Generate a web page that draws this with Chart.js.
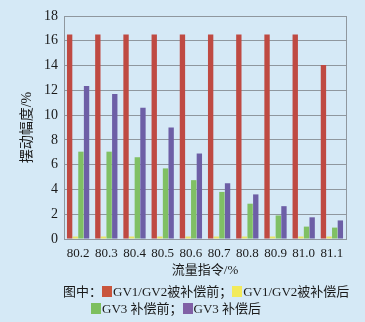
<!DOCTYPE html>
<html>
<head>
<meta charset="utf-8">
<script src="https://cdn.jsdelivr.net/npm/chart.js@4"></script>
<style>
    html, body { margin: 0; padding: 0; background: #d5e9f6; }
    #wrap { position: relative; width: 365px; height: 322px; overflow: hidden; }
    #legend {
        position: absolute; left: 63px; top: 283px; white-space: nowrap;
        font: 13px "Liberation Serif", "Noto Sans CJK SC", serif; color: #1a1a1a; line-height: 17px;
    }
    .sw { display: inline-block; width: 10px; height: 11px; vertical-align: -1px; margin-right: 1px; }
</style>
</head>
<body>
<div id="wrap">
    <canvas id="swingChart" width="365" height="322"></canvas>
    <div id="legend">
        图中：<span class="sw" style="background:#c9553c"></span>GV1/GV2被补偿前；<span class="sw" style="background:#f2ea5a"></span>GV1/GV2被补偿后<br>
        <span style="padding-left:28px"></span><span class="sw" style="background:#7dbf5e"></span>GV3 补偿前；<span class="sw" style="background:#8060a6"></span>GV3 补偿后
    </div>
</div>
<script>
const flowLabels = ['80.2', '80.3', '80.4', '80.5', '80.6', '80.7', '80.8', '80.9', '81.0', '81.1'];
const gv12Before = [16.5, 16.5, 16.5, 16.5, 16.5, 16.5, 16.5, 16.5, 16.5, 14.05];
const gv12After = [0.2, 0.2, 0.2, 0.2, 0.2, 0.2, 0.2, 0.2, 0.2, 0.2];
const gv3Before = [7.05, 7.05, 6.6, 5.7, 4.75, 3.8, 2.85, 1.9, 1.0, 0.92];
const gv3After = [12.35, 11.7, 10.6, 9.0, 6.9, 4.5, 3.6, 2.65, 1.75, 1.5];

const serif = '"Liberation Serif", "Noto Sans CJK SC", serif';

const rightBorder = {
    id: 'rightBorder',
    afterDraw(chart) {
        let a = chart.chartArea;
        let c = chart.ctx;
        c.save();
        c.strokeStyle = '#8f979e';
        c.lineWidth = 1;
        c.beginPath();
        c.moveTo(a.right + 0.5, a.top);
        c.lineTo(a.right + 0.5, a.bottom);
        c.stroke();
        c.restore();
    }
};

let ctx = document.getElementById('swingChart');
new Chart(ctx, {
    type: 'bar',
    data: {
        labels: flowLabels,
        datasets: [
            {label: 'GV1/GV2被补偿前', data: gv12Before, backgroundColor: '#bf4a42'},
            {label: 'GV1/GV2被补偿后', data: gv12After, backgroundColor: '#e8e463'},
            {label: 'GV3补偿前', data: gv3Before, backgroundColor: '#80c064'},
            {label: 'GV3补偿后', data: gv3After, backgroundColor: '#6d5fa6'}
        ]
    },
    options: {
        responsive: false,
        animation: false,
        layout: {padding: {left: 0, right: 19, top: 16, bottom: 40}},
        datasets: {bar: {categoryPercentage: 0.8, barPercentage: 0.95}},
        scales: {
            x: {
                grid: {display: false, drawTicks: false},
                border: {display: true, color: '#8f979e'},
                ticks: {color: '#1a1a1a', font: {family: serif, size: 13}, padding: 7, maxRotation: 0, autoSkip: false},
                title: {display: true, text: '流量指令/%', color: '#1a1a1a', font: {family: serif, size: 13}, padding: {top: 5}},
                afterFit: s => { s.height = 43; }
            },
            y: {
                min: 0, max: 18,
                grid: {color: '#8f979e', drawTicks: false},
                border: {display: true, color: '#8f979e'},
                ticks: {stepSize: 2, color: '#1a1a1a', font: {family: serif, size: 14}, padding: 6},
                title: {display: true, text: '摆动幅度/%', color: '#1a1a1a', font: {family: serif, size: 14}, padding: {top: 19}},
                afterFit: s => { s.width = 64; }
            }
        },
        plugins: {
            legend: {display: false},
            tooltip: {enabled: false}
        }
    },
    plugins: [rightBorder]
});
</script>
</body>
</html>
